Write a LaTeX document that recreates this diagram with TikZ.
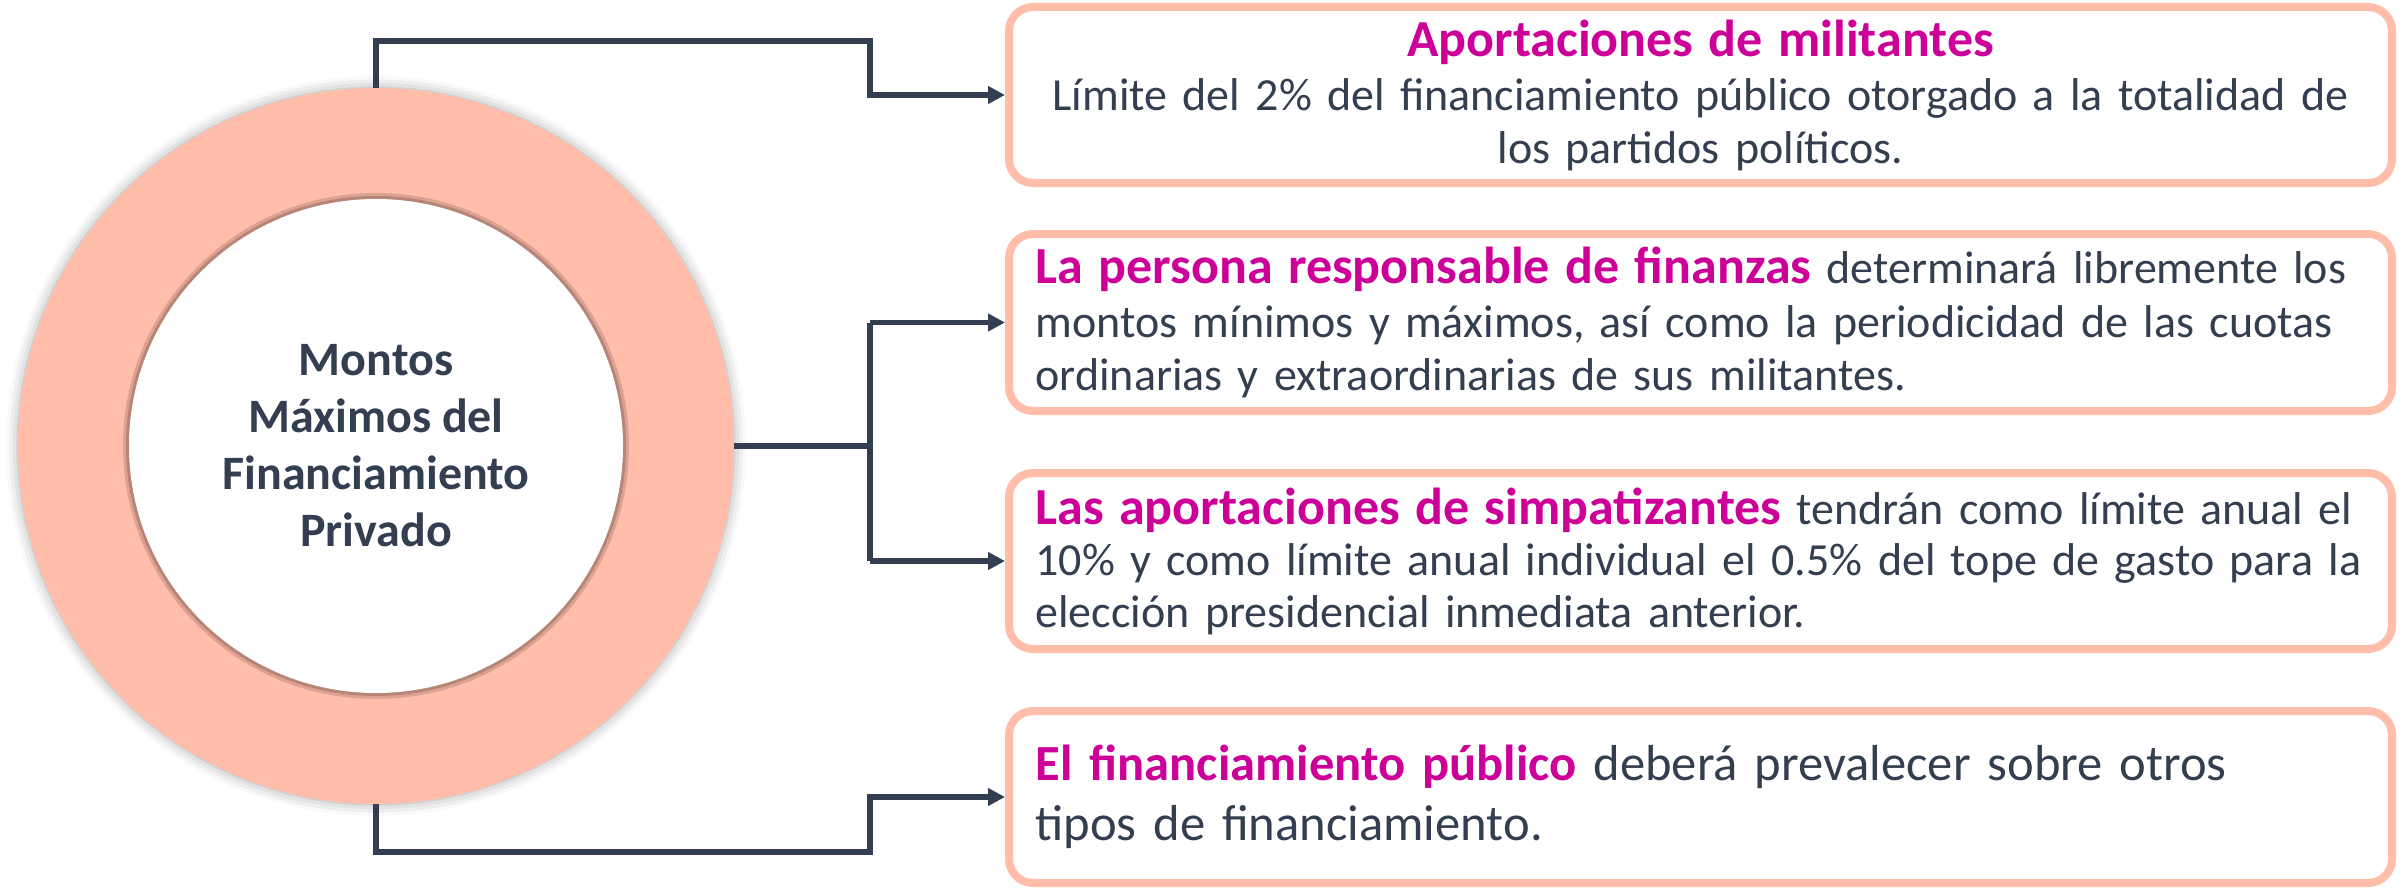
\documentclass[tikz,border=0pt]{standalone}
\usepackage{fontspec}
\setmainfont{Carlito}
\usetikzlibrary{arrows.meta,shadows.blur}
\definecolor{ringpink}{HTML}{FFBDAA}
\definecolor{darkline}{HTML}{333F50}
\definecolor{magent}{HTML}{CC0099}
\definecolor{shadowbrown}{HTML}{9A6E64}
\tikzset{
  conn/.style={draw=darkline, line width=2.6pt, -{Triangle[length=8.5pt,width=8.5pt]}},
  connplain/.style={draw=darkline, line width=2.6pt},
  infobox/.style={draw=ringpink, line width=4pt, rounded corners=12pt, fill=white,
    minimum width=691.5pt, text width=665pt, inner sep=0pt, text=darkline,
    font=\fontsize{23pt}{26.5pt}\selectfont}
}
\newcommand{\hlt}[1]{{\fontsize{26pt}{26pt}\selectfont\textbf{\textcolor{magent}{#1}}}}
\newcommand{\hltb}[1]{\textbf{\textcolor{magent}{#1}}}
\begin{document}
\begin{tikzpicture}[x=0.5pt,y=-0.5pt]
\useasboundingbox (0,0) rectangle (2408,888);
% ring
\node[circle, fill=ringpink, minimum size=358pt, inner sep=0pt,
      blur shadow={shadow xshift=0pt, shadow yshift=0pt, shadow blur radius=6pt, shadow opacity=35}] (ring) at (376,446) {};
\fill[shadowbrown, opacity=0.55] (376,446) circle (250);
\fill[shadowbrown, opacity=0.35] (376,446) circle (253);
\node[circle, fill=white, minimum size=247pt, inner sep=0pt, align=center, text=darkline,
      font=\bfseries\fontsize{24pt}{28.5pt}\selectfont] (core) at (376,446)
      {Montos\\Máximos del\\Financiamiento\\Privado};
% boxes
\node[infobox, minimum height=88pt, align=center] (b1) at (1700.5,95)
  {\hlt{Aportaciones de militantes}\\[2.5pt]
   {\fontsize{23pt}{24.5pt}\selectfont Límite del 2\% del financiamiento público otorgado a la totalidad de\\ los partidos políticos.}};
\node[infobox, minimum height=88.5pt, align=left,
      font=\fontsize{23pt}{26.75pt}\selectfont] (b2) at (1700.5,322.5)
  {\hlt{La persona responsable de finanzas} determinará libremente los\\
   montos mínimos y máximos, así como la periodicidad de las cuotas\\
   ordinarias y extraordinarias de sus militantes.};
\node[infobox, minimum height=88pt, align=left,
      font=\fontsize{23pt}{25.75pt}\selectfont] (b3) at (1700.5,561)
  {\hlt{Las aportaciones de simpatizantes} tendrán como límite anual el\\
   10\% y como límite anual individual el 0.5\% del tope de gasto para la\\
   elección presidencial inmediata anterior.};
\node[infobox, minimum height=86pt, align=left,
      font=\fontsize{25.3pt}{30pt}\selectfont] (b4) at (1700.5,797)
  {\hltb{El financiamiento público} deberá prevalecer sobre otros\\
   tipos de financiamiento.};
% connectors
\coordinate (jx) at (870,446);
\draw[conn] (ring.north) |- (jx |- 0,41) |- (b1.west);
\draw[connplain] (ring.east) -- (jx);
\draw[conn] (jx |- b2.west) |- (b2.west);
\draw[connplain] (jx |- b2.west) -- (jx |- b3.west);
\draw[conn] (jx |- b3.west) -- (b3.west);
\draw[conn] (ring.south) |- (jx |- 0,852) |- (b4.west);
\end{tikzpicture}
\end{document}
